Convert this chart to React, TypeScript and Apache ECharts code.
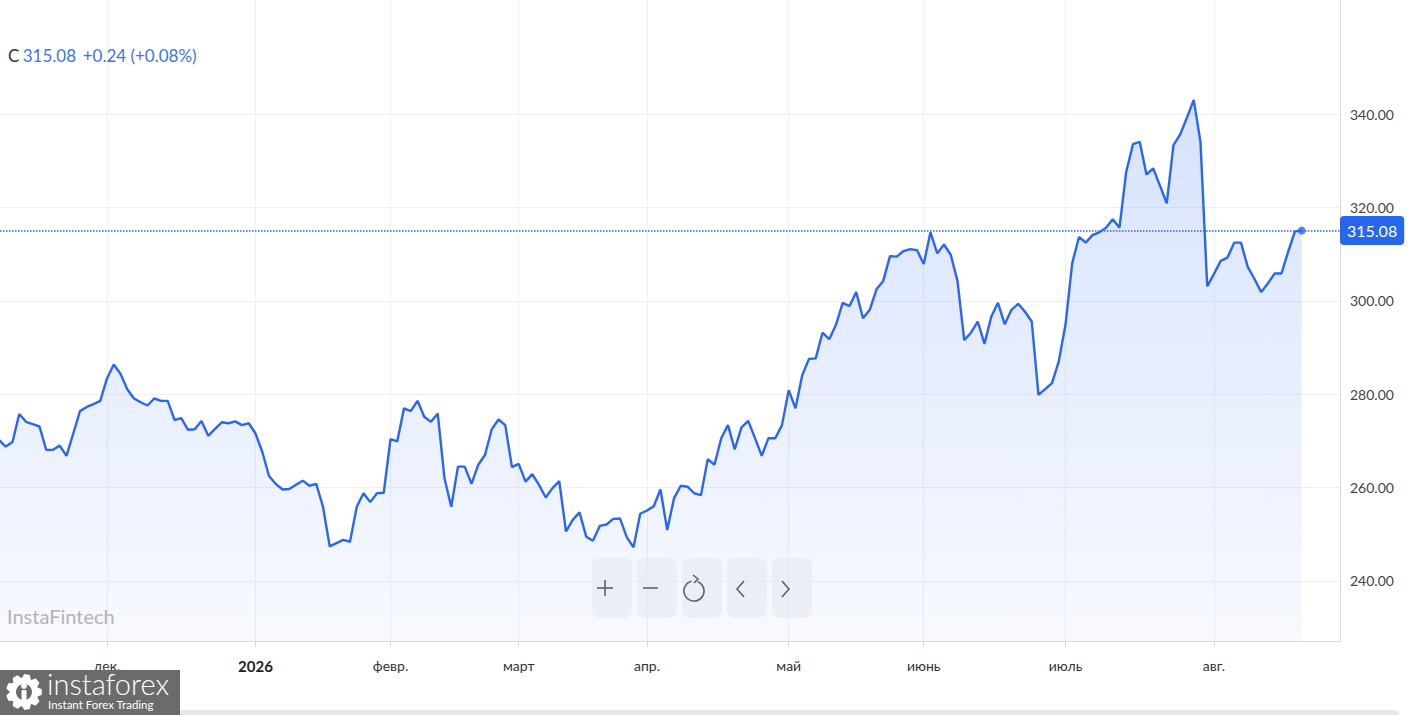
import React, { useEffect, useRef } from "react";
import * as echarts from "echarts";

// ---- data ----
const prices: number[] = [
  270.2, 268.8, 269.8, 275.8, 274.1, 273.6, 273.1, 268.1, 268.1, 269.0,
  266.8, 271.6, 276.4, 277.3, 277.9, 278.6, 283.4, 286.4, 284.4, 281.1,
  279.1, 278.3, 277.6, 279.1, 278.6, 278.6, 274.5, 274.9, 272.4, 272.5,
  274.3, 271.1, 272.6, 274.0, 273.8, 274.2, 273.4, 273.8, 271.6, 267.7,
  262.5, 260.8, 259.6, 259.7, 260.6, 261.5, 260.4, 260.8, 255.9, 247.4,
  248.1, 248.8, 248.4, 255.9, 258.8, 256.9, 258.8, 258.9, 270.4, 269.9,
  277.0, 276.4, 278.6, 275.2, 274.1, 275.9, 262.0, 255.9, 264.5, 264.5,
  260.8, 264.9, 267.0, 272.5, 274.6, 273.4, 264.4, 265.1, 261.3, 262.9,
  260.6, 257.9, 259.9, 261.4, 250.6, 253.1, 254.7, 249.5, 248.6, 251.8,
  252.1, 253.3, 253.4, 249.4, 247.2, 254.4, 255.1, 256.0, 259.6, 250.9,
  257.7, 260.4, 260.2, 258.8, 258.4, 266.1, 264.9, 270.6, 273.4, 268.2,
  272.9, 274.3, 270.6, 266.8, 270.6, 270.6, 273.4, 280.9, 277.0, 284.1,
  287.6, 287.7, 293.2, 291.8, 294.9, 299.6, 298.9, 301.9, 296.3, 298.1,
  302.5, 304.3, 309.6, 309.5, 310.7, 311.1, 310.9, 307.9, 314.7, 310.2,
  312.1, 309.9, 304.3, 291.6, 293.2, 295.6, 290.8, 296.6, 299.6, 295.0,
  298.1, 299.4, 297.7, 295.6, 279.9, 281.1, 282.4, 287.0, 294.9, 308.1,
  313.7, 312.5, 314.1, 314.7, 315.7, 317.5, 315.7, 327.7, 333.6, 334.1,
  327.1, 328.4, 324.7, 320.9, 333.4, 335.7, 339.3, 343.1, 334.1, 303.1,
  305.8, 308.6, 309.3, 312.5, 312.5, 307.3, 304.7, 301.9, 303.8, 305.9,
  305.9, 310.6, 314.9, 315.08,
];
const monthTickIdx: number[] = [16, 38, 58, 77, 96, 117, 137, 158, 180];
const monthLabels: string[] = ["дек.", "2026", "февр.", "март", "апр.", "май", "июнь", "июль", "авг."];
const yTicks: number[] = [240, 260, 280, 300, 320, 340];
const tickerName = "C";
const lastPriceText = "315.08";
const changeText = "+0.24";
const changePctText = "(+0.08%)";

const FONT = "Lato, 'Noto Sans', sans-serif";
const BLUE = "#2a66f0";

function gearPoints(cx: number, cy: number, rOut: number, rIn: number, teeth: number) {
  const pts: number[][] = [];
  const step = (Math.PI * 2) / teeth;
  for (let i = 0; i < teeth; i++) {
    const a = i * step;
    pts.push([cx + rIn * Math.cos(a - step * 0.5), cy + rIn * Math.sin(a - step * 0.5)]);
    pts.push([cx + rOut * Math.cos(a - step * 0.22), cy + rOut * Math.sin(a - step * 0.22)]);
    pts.push([cx + rOut * Math.cos(a + step * 0.22), cy + rOut * Math.sin(a + step * 0.22)]);
  }
  return pts;
}

export default function App() {
  const ref = useRef<HTMLDivElement>(null);
  useEffect(() => {
    if (!ref.current) return;
    const chart = echarts.init(ref.current, null, { renderer: "svg" });
    const seriesData = prices.map((v, i) => [i, v]);
    const last = prices.length - 1;

    const btnX = [592, 637, 682, 727, 772];
    const iconStroke = { stroke: "#5f6368", lineWidth: 1.6, fill: "none" };

    const option: any = {
      animation: false,
      backgroundColor: "#ffffff",
      grid: { left: 0, right: 68, top: 0, bottom: 74, containLabel: false },
      xAxis: {
        type: "value",
        min: 0.148,
        max: 198.67,
        axisLine: { show: true, lineStyle: { color: "#d6dae0", width: 1 } },
        axisTick: { show: true, customValues: monthTickIdx, length: 6, lineStyle: { color: "#d6dae0" } },
        axisLabel: {
          customValues: monthTickIdx,
          margin: 17,
          color: "#333",
          fontSize: 14,
          fontFamily: FONT,
          formatter: (v: number) => {
            const k = monthTickIdx.indexOf(Math.round(v));
            if (k < 0) return "";
            const t = monthLabels[k];
            return /^\d+$/.test(t) ? "{b|" + t + "}" : t;
          },
          rich: { b: { fontWeight: "bold", fontSize: 15, color: "#222", fontFamily: FONT } },
        },
        splitLine: { show: true, lineStyle: { color: "#eef0f4", width: 1 } },
      },
      yAxis: {
        type: "value",
        position: "right",
        min: 227.14,
        max: 364.49,
        axisLine: { show: true, lineStyle: { color: "#d6dae0", width: 1 } },
        axisTick: { show: false, customValues: yTicks },
        axisLabel: {
          customValues: yTicks,
          margin: 10,
          color: "#444",
          fontSize: 14,
          fontFamily: FONT,
          formatter: (v: number) => v.toFixed(2),
        },
        splitLine: { show: true, lineStyle: { color: "#eef0f4", width: 1 } },
      },
      series: [
        {
          type: "line",
          data: seriesData,
          symbol: "none",
          lineStyle: { color: BLUE, width: 2.4 },
          areaStyle: {
            color: new echarts.graphic.LinearGradient(0, 0, 0, 1, [
              { offset: 0, color: "rgba(42,102,240,0.27)" },
              { offset: 1, color: "rgba(42,102,240,0.05)" },
            ]),
          },
          markLine: {
            silent: true,
            symbol: "none",
            data: [{ yAxis: prices[last] }],
            lineStyle: { type: "dotted", color: BLUE, width: 1.5 },
            label: {
              show: true,
              position: "end",
              distance: 0,
              formatter: lastPriceText,
              color: "#fff",
              fontSize: 16,
              fontFamily: FONT,
              backgroundColor: "#2566eb",
              borderRadius: 4,
              padding: [7, 7, 6, 7],
            },
          },
          z: 3,
        },
        {
          type: "scatter",
          data: [[last, prices[last]]],
          symbol: "circle",
          symbolSize: 8,
          itemStyle: { color: BLUE },
          z: 4,
        },
      ],
      graphic: [
        {
          type: "text",
          left: 8,
          top: 47,
          z: 10,
          style: {
            text: "{c|" + tickerName + "} {v|" + lastPriceText + "}  {v|" + changeText + " " + changePctText + "}",
            rich: {
              c: { fill: "#333", fontSize: 17, fontFamily: FONT },
              v: { fill: "#3d74e8", fontSize: 17, fontFamily: FONT },
            },
          },
        },
        {
          type: "text",
          left: 7,
          top: 606,
          z: 10,
          style: { text: "InstaFintech", fill: "#b3b3b3", fontSize: 20, fontFamily: FONT },
        },
        // nav buttons
        ...btnX.map((x) => ({
          type: "rect",
          z: 10,
          shape: { x, y: 558, width: 40, height: 60, r: 8 },
          style: { fill: "rgba(228,231,237,0.55)" },
        })),
        { type: "line", z: 11, shape: { x1: 597, y1: 588, x2: 613, y2: 588 }, style: iconStroke },
        { type: "line", z: 11, shape: { x1: 605, y1: 580, x2: 605, y2: 596 }, style: iconStroke },
        { type: "line", z: 11, shape: { x1: 643, y1: 588, x2: 658, y2: 588 }, style: iconStroke },
        {
          type: "arc",
          z: 11,
          shape: { cx: 694, cy: 591, r: 10, startAngle: -Math.PI * 0.38, endAngle: Math.PI * 1.42, clockwise: true },
          style: iconStroke,
        },
        { type: "polyline", z: 11, shape: { points: [[693, 575], [698, 579], [694, 583]] }, style: iconStroke },
        { type: "polyline", z: 11, shape: { points: [[744, 581], [737, 589], [744, 597]] }, style: iconStroke },
        { type: "polyline", z: 11, shape: { points: [[782, 581], [789, 589], [782, 597]] }, style: iconStroke },
        // bottom scroll bar
        {
          type: "rect",
          z: 9,
          shape: { x: 178, y: 710, width: 1222, height: 12, r: 6 },
          style: { fill: "#e8e8ea" },
        },
        // logo
        { type: "rect", z: 12, shape: { x: 0, y: 670, width: 180, height: 45 }, style: { fill: "#6b6b6b" } },
        { type: "polygon", z: 13, shape: { points: gearPoints(24, 692, 18, 14, 9) }, style: { fill: "#ffffff" } },
        { type: "circle", z: 14, shape: { cx: 24, cy: 692, r: 8 }, style: { fill: "#6b6b6b" } },
        { type: "circle", z: 15, shape: { cx: 24, cy: 686, r: 3 }, style: { fill: "#ffffff" } },
        { type: "rect", z: 15, shape: { x: 21.5, y: 690, width: 5, height: 10, r: 1 }, style: { fill: "#ffffff" } },
        {
          type: "text",
          z: 13,
          left: 47,
          top: 669,
          style: { text: "instaforex", fill: "#ffffff", fontSize: 29, fontWeight: 300, fontFamily: FONT },
        },
        {
          type: "text",
          z: 13,
          left: 48,
          top: 698,
          style: { text: "Instant Forex Trading", fill: "#ffffff", fontSize: 11.5, fontFamily: FONT },
        },
      ],
    };
    chart.setOption(option);
    return () => chart.dispose();
  }, []);
  return (
    <div
      ref={ref}
      style={{ position: "fixed", left: 0, top: 0, width: 1408, height: 715, background: "#fff" }}
    />
  );
}
